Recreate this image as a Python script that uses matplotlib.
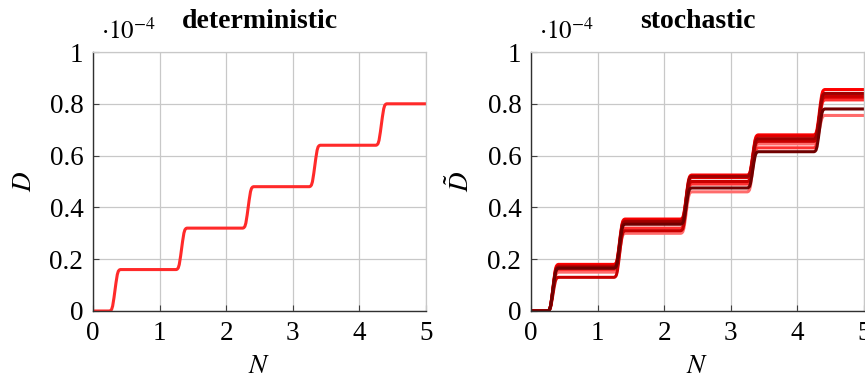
import matplotlib
matplotlib.use("Agg")
import matplotlib.pyplot as plt

plt.rcParams["font.family"] = ["Liberation Serif", "DejaVu Serif"]
plt.rcParams["mathtext.fontset"] = "stix"

# Damage D (in units of 1e-4) over load cycles N
x_ticks = [0, 1, 2, 3, 4, 5]
x_tick_labels = ["0", "1", "2", "3", "4", "5"]
y_ticks = [0, 0.2, 0.4, 0.6, 0.8, 1.0]
y_tick_labels = ["0", "0.2", "0.4", "0.6", "0.8", "1"]

# centres of the damage jumps
step_centres = [0.33, 1.33, 2.33, 3.33, 4.33]

# smooth jump profile: offset from centre and fraction of the jump completed
ramp_dx = [-0.08, -0.065, -0.05, -0.035, -0.015, 0.0, 0.015, 0.035, 0.05, 0.065, 0.08]
ramp_frac = [0.0, 0.01, 0.04, 0.12, 0.32, 0.5, 0.68, 0.88, 0.96, 0.99, 1.0]

# plateau levels after each jump
det_levels = [0.16, 0.32, 0.48, 0.64, 0.80]

sto_levels = [
    [0.15, 0.30, 0.46, 0.645, 0.755],
    [0.16, 0.32, 0.49, 0.63, 0.815],
    [0.18, 0.355, 0.525, 0.68, 0.855],
    [0.175, 0.35, 0.515, 0.675, 0.825],
    [0.13, 0.31, 0.50, 0.655, 0.83],
    [0.17, 0.345, 0.52, 0.665, 0.84],
    [0.165, 0.335, 0.475, 0.615, 0.78],
]
sto_colors = ["#ff6b6b", "#ff3030", "#ff0000", "#e00000", "#c80000", "#a00000", "#700000"]

N_END = 5.0


def staircase(levels):
    xs, ys = [0.0], [0.0]
    prev = 0.0
    for c, lev in zip(step_centres, levels):
        for dx, f in zip(ramp_dx, ramp_frac):
            xs.append(c + dx)
            ys.append(prev + (lev - prev) * f)
        prev = lev
    xs.append(N_END)
    ys.append(prev)
    return xs, ys


fig = plt.figure(figsize=(8.65, 3.79), dpi=100)
ax1 = fig.add_axes([93 / 865, 1 - 311 / 379, 333 / 865, 259 / 379])
ax2 = fig.add_axes([531 / 865, 1 - 311 / 379, 333 / 865, 259 / 379])

grid_col = "#c8c8c8"
FS = 19.5
for ax in (ax1, ax2):
    ax.set_xlim(0, 5)
    ax.set_ylim(0, 1)
    ax.set_xticks(x_ticks)
    ax.set_xticklabels(x_tick_labels)
    ax.set_yticks(y_ticks)
    ax.set_yticklabels(y_tick_labels)
    ax.grid(True, color=grid_col, linewidth=0.9)
    ax.set_axisbelow(True)
    for s in ("top", "right"):
        ax.spines[s].set_color(grid_col)
        ax.spines[s].set_linewidth(0.9)
    for s in ("left", "bottom"):
        ax.spines[s].set_color("#303030")
        ax.spines[s].set_linewidth(1.0)
    ax.tick_params(direction="in", length=4, width=0.8, color="#404040",
                   labelsize=FS, pad=7)
    ax.set_xlabel(r"$N$", fontsize=FS, labelpad=6)
    ax.text(0.025, 1.03, r"$\cdot 10^{-4}$", transform=ax.transAxes,
            fontsize=18, ha="left", va="bottom")

xs, ys = staircase(det_levels)
ax1.plot(xs, ys, color="#ff2a2a", linewidth=2.2, solid_capstyle="round")
ax1.set_ylabel(r"$D$", fontsize=FS, labelpad=9)
ax1.set_title("deterministic", fontsize=20, fontweight="bold", pad=17)

for lev, col in zip(sto_levels, sto_colors):
    xs, ys = staircase(lev)
    ax2.plot(xs, ys, color=col, linewidth=2.2, solid_capstyle="round")
ax2.set_ylabel(r"$\tilde{D}$", fontsize=FS, labelpad=9)
ax2.set_title("stochastic", fontsize=20, fontweight="bold", pad=17)

fig.savefig("out.png", dpi=100)
